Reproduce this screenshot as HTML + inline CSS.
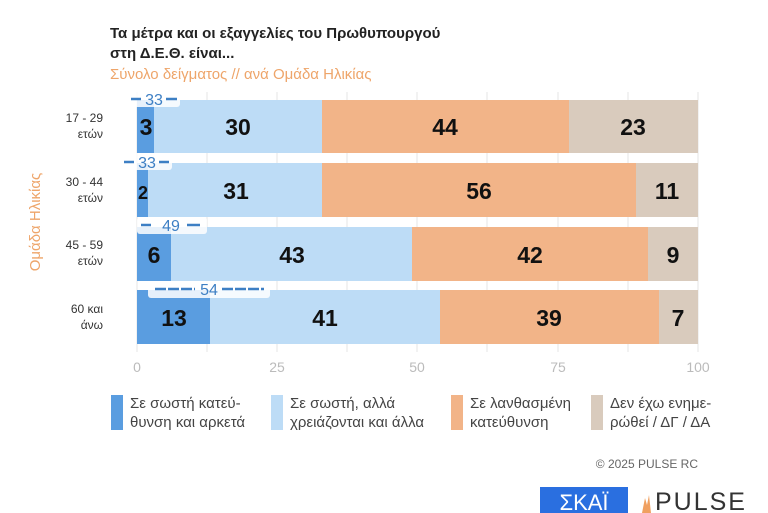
<!DOCTYPE html>
<html><head><meta charset="utf-8"><style>
body{margin:0;background:#fff;}
svg{display:block;font-family:"Liberation Sans","DejaVu Sans",sans-serif;}
</style></head><body>
<svg width="768" height="513" viewBox="0 0 768 513" xmlns="http://www.w3.org/2000/svg">
<text x="110" y="38" font-size="15" font-weight="bold" fill="#222">Τα μέτρα και οι εξαγγελίες του Πρωθυπουργού</text>
<text x="110" y="58" font-size="15" font-weight="bold" fill="#222">στη Δ.Ε.Θ. είναι...</text>
<text x="110" y="79" font-size="15" fill="#eea56a">Σύνολο δείγματος // ανά Ομάδα Ηλικίας</text>
<text transform="translate(40,222) rotate(-90)" text-anchor="middle" font-size="15" fill="#eea56a">Ομάδα Ηλικίας</text>
<g stroke="#e4e4e4" stroke-width="1">
<line x1="137" y1="92" x2="137" y2="352"/><line x1="207" y1="92" x2="207" y2="352"/><line x1="277" y1="92" x2="277" y2="352"/><line x1="347" y1="92" x2="347" y2="352"/><line x1="417" y1="92" x2="417" y2="352"/><line x1="487" y1="92" x2="487" y2="352"/><line x1="558" y1="92" x2="558" y2="352"/><line x1="628" y1="92" x2="628" y2="352"/><line x1="698" y1="92" x2="698" y2="352"/>
</g>
<g>
<rect x="137" y="100" width="17" height="53" fill="#5a9de0"/><rect x="154" y="100" width="168" height="53" fill="#bddcf6"/><rect x="322" y="100" width="247" height="53" fill="#f2b488"/><rect x="569" y="100" width="129" height="53" fill="#d9cbbd"/>
<rect x="137" y="163" width="11" height="54" fill="#5a9de0"/><rect x="148" y="163" width="174" height="54" fill="#bddcf6"/><rect x="322" y="163" width="314" height="54" fill="#f2b488"/><rect x="636" y="163" width="62" height="54" fill="#d9cbbd"/>
<rect x="137" y="227" width="34" height="54" fill="#5a9de0"/><rect x="171" y="227" width="241" height="54" fill="#bddcf6"/><rect x="412" y="227" width="236" height="54" fill="#f2b488"/><rect x="648" y="227" width="50" height="54" fill="#d9cbbd"/>
<rect x="137" y="290" width="73" height="54" fill="#5a9de0"/><rect x="210" y="290" width="230" height="54" fill="#bddcf6"/><rect x="440" y="290" width="219" height="54" fill="#f2b488"/><rect x="659" y="290" width="39" height="54" fill="#d9cbbd"/>
</g>
<g font-size="23" font-weight="bold" fill="#111" text-anchor="middle">
<text x="146" y="135">3</text><text x="238" y="135">30</text><text x="445" y="135">44</text><text x="633" y="135">23</text>
<text x="143" y="199" font-size="18">2</text><text x="236" y="199">31</text><text x="479" y="199">56</text><text x="667" y="199">11</text>
<text x="154" y="263">6</text><text x="292" y="263">43</text><text x="530" y="263">42</text><text x="673" y="263">9</text>
<text x="174" y="326">13</text><text x="325" y="326">41</text><text x="549" y="326">39</text><text x="678" y="326">7</text>
</g>
<g fill="#ffffff" opacity="0.85">
<rect x="128" y="90" width="52" height="17" rx="3"/><rect x="120" y="153" width="52" height="17" rx="3"/><rect x="137" y="217" width="70" height="17" rx="3"/><rect x="148" y="281" width="122" height="17" rx="3"/>
</g>
<g stroke="#3d7fc4" stroke-width="2.5">
<line x1="131" y1="99" x2="141" y2="99"/><line x1="166" y1="99" x2="177" y2="99"/>
<line x1="124" y1="162" x2="134" y2="162"/><line x1="159" y1="162" x2="169" y2="162"/>
<line x1="141" y1="225" x2="151" y2="225"/><line x1="187" y1="225" x2="200" y2="225"/>
<line x1="155" y1="289" x2="195" y2="289" stroke-dasharray="11,2"/><line x1="222" y1="289" x2="264" y2="289" stroke-dasharray="11,2"/>
</g>
<g font-size="16" fill="#3d7fc4" text-anchor="middle">
<text x="154" y="105">33</text><text x="147" y="168">33</text><text x="171" y="231">49</text><text x="209" y="295">54</text>
</g>
<g font-size="12" fill="#333" text-anchor="end">
<text x="103" y="122">17 - 29</text><text x="103" y="138">ετών</text>
<text x="103" y="186">30 - 44</text><text x="103" y="202">ετών</text>
<text x="103" y="249">45 - 59</text><text x="103" y="265">ετών</text>
<text x="103" y="313">60 και</text><text x="103" y="329">άνω</text>
</g>
<g font-size="14" fill="#bbb" text-anchor="middle">
<text x="137" y="372">0</text><text x="277" y="372">25</text><text x="417" y="372">50</text><text x="558" y="372">75</text><text x="698" y="372">100</text>
</g>
<g font-size="15" fill="#444">
<rect x="111" y="395" width="12" height="35" fill="#5a9de0"/><text x="130" y="408">Σε σωστή κατεύ-</text><text x="130" y="427">θυνση και αρκετά</text>
<rect x="271" y="395" width="12" height="35" fill="#bddcf6"/><text x="290" y="408">Σε σωστή, αλλά</text><text x="290" y="427">χρειάζονται και άλλα</text>
<rect x="451" y="395" width="12" height="35" fill="#f2b488"/><text x="470" y="408">Σε λανθασμένη</text><text x="470" y="427">κατεύθυνση</text>
<rect x="591" y="395" width="12" height="35" fill="#d9cbbd"/><text x="610" y="408">Δεν έχω ενημε-</text><text x="610" y="427">ρώθεί / ΔΓ / ΔΑ</text>
</g>
<text x="698" y="468" font-size="12" fill="#666" text-anchor="end">© 2025 PULSE RC</text>
<rect x="540" y="487" width="88" height="26" fill="#2a6fe0"/>
<text x="584" y="510" font-size="22" fill="#fff" text-anchor="middle">ΣΚΑΪ</text>
<path d="M642 513 L645 498 L647 505 L649 495 L651 513Z" fill="#f0a060"/>
<text x="655" y="510" font-size="25" fill="#333" letter-spacing="2">PULSE</text>
</svg>
</body></html>
